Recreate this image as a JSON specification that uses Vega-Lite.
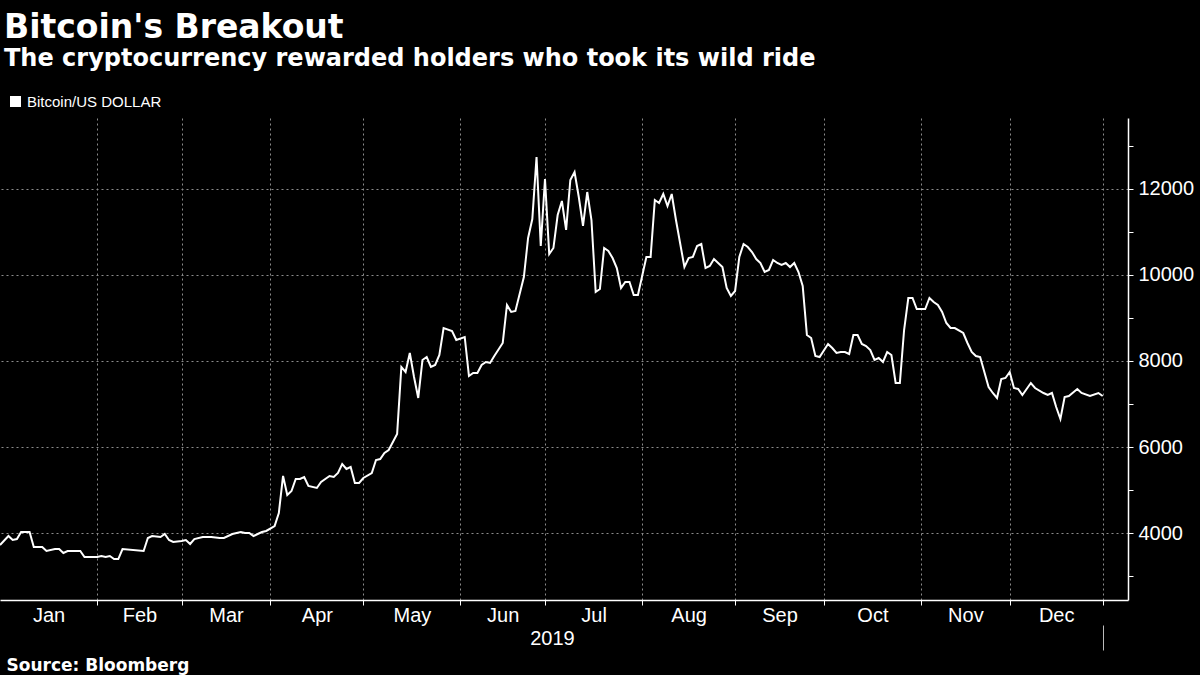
{
  "$schema": "https://vega.github.io/schema/vega-lite/v6.json",
  "width": 1128,
  "height": 482,
  "autosize": {"type": "none"},
  "padding": {"left": 0, "top": 118, "right": 72, "bottom": 75},
  "background": "#000000",
  "config": {"view": {"stroke": null}},
  "title": {
    "text": "Bitcoin's Breakout",
    "subtitle": "The cryptocurrency rewarded holders who took its wild ride",
    "anchor": "start",
    "frame": "group",
    "font": "DejaVu Sans",
    "fontSize": 33,
    "fontWeight": "bold",
    "color": "white",
    "subtitleFont": "DejaVu Sans",
    "subtitleFontSize": 24,
    "subtitleFontWeight": "bold",
    "subtitleColor": "white",
    "subtitlePadding": 2,
    "offset": 23,
    "dx": 4
  },
  "data": {
    "values": [
      {"day": 0, "price": 3721}, {"day": 2, "price": 3930}, {"day": 3, "price": 3837}, {"day": 4, "price": 3860},
      {"day": 5, "price": 4023}, {"day": 7, "price": 4023}, {"day": 8, "price": 3674}, {"day": 10, "price": 3674},
      {"day": 11, "price": 3581}, {"day": 13, "price": 3628}, {"day": 14, "price": 3628}, {"day": 15, "price": 3535},
      {"day": 16, "price": 3581}, {"day": 19, "price": 3581}, {"day": 20, "price": 3442}, {"day": 23, "price": 3442},
      {"day": 24, "price": 3465}, {"day": 25, "price": 3442}, {"day": 26, "price": 3465}, {"day": 27, "price": 3395},
      {"day": 28, "price": 3395}, {"day": 29, "price": 3628}, {"day": 34, "price": 3581}, {"day": 35, "price": 3884},
      {"day": 36, "price": 3930}, {"day": 38, "price": 3907}, {"day": 39, "price": 3977}, {"day": 40, "price": 3837},
      {"day": 41, "price": 3791}, {"day": 43, "price": 3814}, {"day": 44, "price": 3837}, {"day": 45, "price": 3744},
      {"day": 46, "price": 3860}, {"day": 48, "price": 3907}, {"day": 50, "price": 3907}, {"day": 52, "price": 3884},
      {"day": 53, "price": 3884}, {"day": 55, "price": 3977}, {"day": 57, "price": 4023}, {"day": 58, "price": 4000},
      {"day": 59, "price": 4000}, {"day": 60, "price": 3930}, {"day": 61, "price": 3977}, {"day": 62, "price": 4023},
      {"day": 63, "price": 4047}, {"day": 65, "price": 4163}, {"day": 66, "price": 4465}, {"day": 67, "price": 5326},
      {"day": 68, "price": 4884}, {"day": 69, "price": 4977}, {"day": 70, "price": 5256}, {"day": 71, "price": 5256},
      {"day": 72, "price": 5302}, {"day": 73, "price": 5093}, {"day": 75, "price": 5047}, {"day": 76, "price": 5186},
      {"day": 78, "price": 5326}, {"day": 79, "price": 5302}, {"day": 80, "price": 5395}, {"day": 81, "price": 5605},
      {"day": 82, "price": 5488}, {"day": 83, "price": 5535}, {"day": 84, "price": 5163}, {"day": 85, "price": 5163},
      {"day": 86, "price": 5279}, {"day": 88, "price": 5395}, {"day": 89, "price": 5698}, {"day": 90, "price": 5721},
      {"day": 91, "price": 5860}, {"day": 92, "price": 5930}, {"day": 94, "price": 6302}, {"day": 95, "price": 7861},
      {"day": 96, "price": 7744}, {"day": 97, "price": 8186}, {"day": 98, "price": 7628}, {"day": 99, "price": 7140},
      {"day": 100, "price": 8023}, {"day": 101, "price": 8093}, {"day": 102, "price": 7861}, {"day": 103, "price": 7907},
      {"day": 104, "price": 8140}, {"day": 105, "price": 8767}, {"day": 107, "price": 8698}, {"day": 108, "price": 8488},
      {"day": 110, "price": 8558}, {"day": 111, "price": 7651}, {"day": 112, "price": 7721}, {"day": 113, "price": 7721},
      {"day": 114, "price": 7907}, {"day": 115, "price": 7977}, {"day": 116, "price": 7954}, {"day": 117, "price": 8116},
      {"day": 119, "price": 8419}, {"day": 120, "price": 9302}, {"day": 121, "price": 9140}, {"day": 122, "price": 9163},
      {"day": 124, "price": 9953}, {"day": 125, "price": 10860}, {"day": 126, "price": 11302}, {"day": 127, "price": 12744},
      {"day": 128, "price": 10674}, {"day": 129, "price": 12233}, {"day": 130, "price": 10488}, {"day": 131, "price": 10628},
      {"day": 132, "price": 11395}, {"day": 133, "price": 11721}, {"day": 134, "price": 11047}, {"day": 135, "price": 12209},
      {"day": 136, "price": 12395}, {"day": 137, "price": 11814}, {"day": 138, "price": 11140}, {"day": 139, "price": 11930},
      {"day": 140, "price": 11279}, {"day": 141, "price": 9605}, {"day": 142, "price": 9674}, {"day": 143, "price": 10628},
      {"day": 144, "price": 10558}, {"day": 145, "price": 10395}, {"day": 146, "price": 10163}, {"day": 147, "price": 9698},
      {"day": 148, "price": 9837}, {"day": 149, "price": 9837}, {"day": 150, "price": 9535}, {"day": 151, "price": 9535},
      {"day": 152, "price": 9977}, {"day": 153, "price": 10419}, {"day": 154, "price": 10419}, {"day": 155, "price": 11744},
      {"day": 156, "price": 11674}, {"day": 157, "price": 11884}, {"day": 158, "price": 11605}, {"day": 159, "price": 11884},
      {"day": 160, "price": 11279}, {"day": 162, "price": 10186}, {"day": 163, "price": 10395}, {"day": 164, "price": 10419},
      {"day": 165, "price": 10674}, {"day": 166, "price": 10721}, {"day": 167, "price": 10163}, {"day": 168, "price": 10209},
      {"day": 169, "price": 10372}, {"day": 171, "price": 10186}, {"day": 172, "price": 9698}, {"day": 173, "price": 9512},
      {"day": 174, "price": 9628}, {"day": 175, "price": 10419}, {"day": 176, "price": 10721}, {"day": 177, "price": 10651},
      {"day": 178, "price": 10535}, {"day": 179, "price": 10372}, {"day": 180, "price": 10279}, {"day": 181, "price": 10070},
      {"day": 182, "price": 10116}, {"day": 183, "price": 10349}, {"day": 184, "price": 10279}, {"day": 185, "price": 10233},
      {"day": 186, "price": 10279}, {"day": 187, "price": 10186}, {"day": 188, "price": 10279}, {"day": 189, "price": 10070},
      {"day": 190, "price": 9744}, {"day": 191, "price": 8605}, {"day": 192, "price": 8535}, {"day": 193, "price": 8116},
      {"day": 194, "price": 8093}, {"day": 196, "price": 8395}, {"day": 197, "price": 8302}, {"day": 198, "price": 8186},
      {"day": 199, "price": 8209}, {"day": 200, "price": 8209}, {"day": 201, "price": 8163}, {"day": 202, "price": 8605},
      {"day": 203, "price": 8605}, {"day": 204, "price": 8395}, {"day": 205, "price": 8349}, {"day": 206, "price": 8256},
      {"day": 207, "price": 8023}, {"day": 208, "price": 8070}, {"day": 209, "price": 7977}, {"day": 210, "price": 8209},
      {"day": 211, "price": 8140}, {"day": 212, "price": 7488}, {"day": 213, "price": 7488}, {"day": 214, "price": 8721},
      {"day": 215, "price": 9465}, {"day": 216, "price": 9465}, {"day": 217, "price": 9209}, {"day": 219, "price": 9209},
      {"day": 220, "price": 9465}, {"day": 221, "price": 9372}, {"day": 222, "price": 9302}, {"day": 223, "price": 9140},
      {"day": 224, "price": 8884}, {"day": 225, "price": 8767}, {"day": 226, "price": 8767}, {"day": 228, "price": 8651},
      {"day": 229, "price": 8419}, {"day": 230, "price": 8209}, {"day": 231, "price": 8116}, {"day": 232, "price": 8093},
      {"day": 233, "price": 7744}, {"day": 234, "price": 7395}, {"day": 235, "price": 7256}, {"day": 236, "price": 7140},
      {"day": 237, "price": 7581}, {"day": 238, "price": 7605}, {"day": 239, "price": 7744}, {"day": 240, "price": 7372},
      {"day": 241, "price": 7349}, {"day": 242, "price": 7209}, {"day": 244, "price": 7488}, {"day": 245, "price": 7372},
      {"day": 247, "price": 7256}, {"day": 248, "price": 7209}, {"day": 249, "price": 7256}, {"day": 250, "price": 6930},
      {"day": 251, "price": 6651}, {"day": 252, "price": 7163}, {"day": 253, "price": 7186}, {"day": 255, "price": 7349},
      {"day": 256, "price": 7256}, {"day": 258, "price": 7186}, {"day": 260, "price": 7256}, {"day": 261, "price": 7186}
    ]
  },
  "layer": [
    {
      "mark": {"type": "line", "strokeWidth": 2},
      "encoding": {
        "x": {
          "field": "day", "type": "quantitative",
          "scale": {"domain": [0, 267], "nice": false, "zero": false},
          "axis": {
            "orient": "bottom",
            "values": [23, 43, 64, 86, 109, 129, 152, 174, 195, 218, 239, 261],
            "labels": false, "title": null,
            "grid": true, "gridColor": "#8c8c8c", "gridDash": [2, 3], "gridWidth": 1,
            "ticks": true, "tickColor": "white", "tickSize": 5, "tickWidth": 1,
            "domain": true, "domainColor": "white", "domainWidth": 1.5
          }
        },
        "y": {
          "field": "price", "type": "quantitative",
          "scale": {"domain": [2442, 13651], "nice": false, "zero": false},
          "axis": {
            "orient": "right",
            "values": [4000, 6000, 8000, 10000, 12000],
            "format": "d", "title": null,
            "grid": true, "gridColor": "#8c8c8c", "gridDash": [2, 3], "gridWidth": 1,
            "ticks": true, "tickColor": "white", "tickSize": 5, "tickWidth": 1,
            "domain": true, "domainColor": "white", "domainWidth": 1.5,
            "labelFont": "Liberation Sans", "labelFontSize": 20, "labelColor": "white",
            "labelPadding": 5, "labelBaseline": "middle", "labelOverlap": false, "labelFlush": false
          }
        },
        "color": {
          "datum": "Bitcoin/US DOLLAR",
          "scale": {"range": ["white"]},
          "legend": {
            "orient": "none", "legendX": 8, "legendY": -24, "title": null,
            "labelFont": "Liberation Sans", "labelFontSize": 15, "labelColor": "white",
            "symbolType": "square", "symbolSize": 121, "labelOffset": 4, "padding": 0,
            "encode": {
              "symbols": {
                "update": {
                  "fill": {"value": "white"},
                  "stroke": {"value": "white"},
                  "strokeWidth": {"value": 0},
                  "shape": {"value": "square"},
                  "opacity": {"value": 1}
                }
              }
            }
          }
        }
      }
    },
    {
      "mark": {"type": "line", "opacity": 0},
      "encoding": {
        "x": {
          "field": "day", "type": "quantitative",
          "axis": {
            "orient": "bottom",
            "values": [11.5, 33, 53.5, 75, 97.5, 119, 140.5, 163, 184.5, 206.5, 228.5, 250],
            "labelExpr": "['Jan','Feb','Mar','Apr','May','Jun','Jul','Aug','Sep','Oct','Nov','Dec'][indexof([11.5,33,53.5,75,97.5,119,140.5,163,184.5,206.5,228.5,250], datum.value)]",
            "ticks": false, "tickSize": 0, "domain": false, "grid": false,
            "labelFont": "Liberation Sans", "labelFontSize": 20, "labelColor": "white",
            "labelBaseline": "alphabetic", "labelPadding": 21,
            "labelFlush": false, "labelOverlap": false, "labelBound": false,
            "title": "2019", "titleFont": "Liberation Sans", "titleFontSize": 20,
            "titleFontWeight": "normal", "titleColor": "white",
            "titleX": 552, "titleY": 44, "titleAlign": "center",
            "titleBaseline": "alphabetic", "titleAnchor": null
          }
        },
        "y": {
          "field": "price", "type": "quantitative",
          "axis": {
            "orient": "right",
            "values": [3000, 5000, 7000, 9000, 11000, 13000],
            "labels": false, "grid": false, "domain": false, "title": null,
            "ticks": true, "tickColor": "white", "tickSize": 5, "tickWidth": 1
          }
        }
      }
    },
    {
      "mark": {"type": "line", "opacity": 0},
      "encoding": {
        "x": {
          "field": "day", "type": "quantitative",
          "axis": {
            "orient": "bottom", "offset": 25,
            "values": [261],
            "labels": false, "domain": false, "grid": false,
            "ticks": true, "tickSize": 25, "tickColor": "#bbbbbb", "tickWidth": 1,
            "title": "Source: Bloomberg", "titleFont": "DejaVu Sans", "titleFontSize": 17,
            "titleFontWeight": "bold", "titleColor": "white",
            "titleX": 6, "titleY": 45, "titleAlign": "left",
            "titleBaseline": "alphabetic", "titleAnchor": null
          }
        },
        "y": {"field": "price", "type": "quantitative", "axis": null}
      }
    }
  ],
  "resolve": {"axis": {"x": "independent", "y": "independent"}}
}
